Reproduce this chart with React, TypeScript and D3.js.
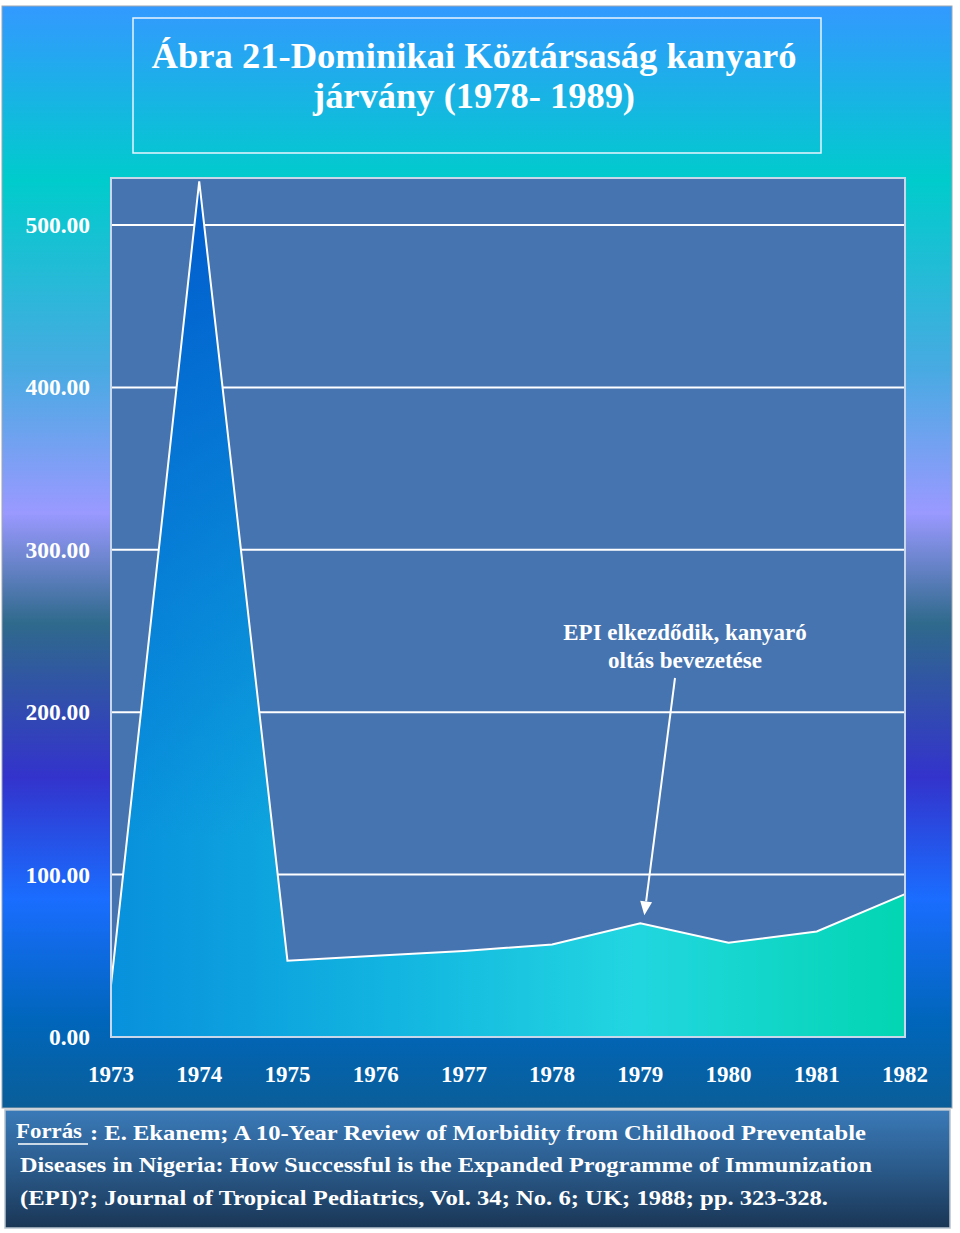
import React from "react";
import * as d3 from "d3";

const years = [1973, 1974, 1975, 1976, 1977, 1978, 1979, 1980, 1981, 1982];
const cases = [32, 527, 47, 50, 53, 57, 70, 58, 65, 88];
const yTicks = [0, 100, 200, 300, 400, 500];
const titleLines = ["Ábra 21-Dominikai Köztársaság kanyaró", "járvány (1978- 1989)"];
const annotationLines = ["EPI elkezdődik, kanyaró", "oltás bevezetése"];
const annotationYear = 1979;
const sourceLabel = "Forrás";
const sourceLines = [
  "E. Ekanem; A 10-Year Review of Morbidity from Childhood Preventable",
  "Diseases in Nigeria: How Successful is the Expanded Programme of Immunization",
  "(EPI)?; Journal of Tropical Pediatrics, Vol. 34; No. 6;  UK; 1988; pp. 323-328.",
];

const W = 960;
const H = 1233;
const plot = { left: 111, right: 905, top: 178, bottom: 1037 };
const FONT = "'Liberation Serif', 'Times New Roman', serif";

export default function App() {
  const x = d3.scaleLinear().domain([years[0], years[years.length - 1]]).range([plot.left, plot.right]);
  const y = d3.scaleLinear().domain([0, 529]).range([plot.bottom, plot.top]);
  const pts: [number, number][] = years.map((yr, i) => [yr, cases[i]]);
  const area = d3.area<[number, number]>().x((d) => x(d[0])).y0(y(0)).y1((d) => y(d[1]));
  const line = d3.line<[number, number]>().x((d) => x(d[0])).y((d) => y(d[1]));

  const ai = years.indexOf(annotationYear);
  const tipX = x(annotationYear) + 4;
  const tipY = y(cases[ai]) - 8;
  const startX = 675;
  const startY = 678;
  const ang = Math.atan2(tipY - startY, tipX - startX);
  const ah = 14, aw = 6;
  const bx = tipX - ah * Math.cos(ang), by = tipY - ah * Math.sin(ang);
  const arrowHead = `M${tipX},${tipY} L${bx + aw * Math.sin(ang)},${by - aw * Math.cos(ang)} L${bx - aw * Math.sin(ang)},${by + aw * Math.cos(ang)} Z`;

  return (
    <svg width={W} height={H} style={{ display: "block", position: "absolute", left: 0, top: 0 }}>
      <defs>
        <linearGradient id="bg" x1="0" y1="0" x2="0" y2="1">
          <stop offset="0" stopColor="#3399ff" />
          <stop offset="0.158" stopColor="#00cccc" />
          <stop offset="0.33" stopColor="#48aae2" />
          <stop offset="0.46" stopColor="#9a99ff" />
          <stop offset="0.56" stopColor="#2f6a8c" />
          <stop offset="0.7" stopColor="#3333cc" />
          <stop offset="0.81" stopColor="#1a6dff" />
          <stop offset="0.92" stopColor="#0066bb" />
          <stop offset="1" stopColor="#0a5e98" />
        </linearGradient>
        <linearGradient id="areaH" gradientUnits="userSpaceOnUse" x1={plot.left} y1="0" x2={plot.right} y2="0">
          <stop offset="0" stopColor="#0890dc" />
          <stop offset="0.35" stopColor="#12b4e0" />
          <stop offset="0.66" stopColor="#22d6e0" />
          <stop offset="1" stopColor="#02d6b2" />
        </linearGradient>
        <linearGradient id="areaV" gradientUnits="userSpaceOnUse" x1="0" y1={plot.top} x2="0" y2={plot.bottom - 200}>
          <stop offset="0" stopColor="#0055cc" stopOpacity="0.9" />
          <stop offset="1" stopColor="#0055cc" stopOpacity="0" />
        </linearGradient>
        <linearGradient id="src" x1="0" y1="0" x2="0" y2="1">
          <stop offset="0" stopColor="#3a7ab8" />
          <stop offset="0.5" stopColor="#2a5a8a" />
          <stop offset="1" stopColor="#1a3655" />
        </linearGradient>
      </defs>

      <rect x={2} y={6} width={950} height={1102} fill="url(#bg)" stroke="#a0a8b0" strokeWidth={1} />

      <rect x={133} y={18} width={688} height={135} fill="none" stroke="#e8f4ff" strokeWidth={1.5} />
      {titleLines.map((t, i) => (
        <text key={i} x={474} y={68 + i * 40} textAnchor="middle" fill="#ffffff" fontFamily={FONT}
          fontWeight="bold" fontSize={36} textLength={i === 0 ? 645 : 322} lengthAdjust="spacingAndGlyphs">{t}</text>
      ))}

      <rect x={plot.left} y={plot.top} width={plot.right - plot.left} height={plot.bottom - plot.top} fill="#4674b0" />
      {yTicks.filter((t) => t > 0).map((t) => (
        <line key={t} x1={plot.left} x2={plot.right} y1={y(t)} y2={y(t)} stroke="#ffffff" strokeWidth={2} />
      ))}
      <path d={area(pts) || ""} fill="url(#areaH)" />
      <path d={area(pts) || ""} fill="url(#areaV)" />
      <path d={line(pts) || ""} fill="none" stroke="#ffffff" strokeWidth={2} />
      <rect x={plot.left} y={plot.top} width={plot.right - plot.left} height={plot.bottom - plot.top} fill="none" stroke="#c8d8ea" strokeWidth={2} />

      {yTicks.map((t) => (
        <text key={t} x={90} y={y(t) + 8} textAnchor="end" fill="#ffffff" fontFamily={FONT} fontWeight="bold" fontSize={23.5}>{t.toFixed(2)}</text>
      ))}
      {years.map((yr) => (
        <text key={yr} x={x(yr)} y={1082} textAnchor="middle" fill="#ffffff" fontFamily={FONT} fontWeight="bold" fontSize={23}>{yr}</text>
      ))}

      {annotationLines.map((t, i) => (
        <text key={i} x={685} y={640 + i * 28} textAnchor="middle" fill="#ffffff" fontFamily={FONT} fontWeight="bold" fontSize={23}>{t}</text>
      ))}
      <line x1={startX} y1={startY} x2={bx} y2={by} stroke="#ffffff" strokeWidth={2} />
      <path d={arrowHead} fill="#ffffff" />

      <rect x={5} y={1110} width={945} height={118} fill="url(#src)" stroke="#b8c4d0" strokeWidth={1.5} />
      <text x={16} y={1138} fill="#ffffff" fontFamily={FONT} fontWeight="bold" fontSize={22} textLength={66} lengthAdjust="spacingAndGlyphs">{sourceLabel}</text>
      <line x1={18} x2={88} y1={1144} y2={1144} stroke="#ffffff" strokeWidth={1.5} />
      <text x={90} y={1140} fill="#ffffff" fontFamily={FONT} fontWeight="bold" fontSize={22} textLength={776} lengthAdjust="spacingAndGlyphs">: {sourceLines[0]}</text>
      <text x={20} y={1172} fill="#ffffff" fontFamily={FONT} fontWeight="bold" fontSize={22} textLength={852} lengthAdjust="spacingAndGlyphs">{sourceLines[1]}</text>
      <text x={20} y={1205} fill="#ffffff" fontFamily={FONT} fontWeight="bold" fontSize={22} textLength={808} lengthAdjust="spacingAndGlyphs">{sourceLines[2]}</text>
    </svg>
  );
}
